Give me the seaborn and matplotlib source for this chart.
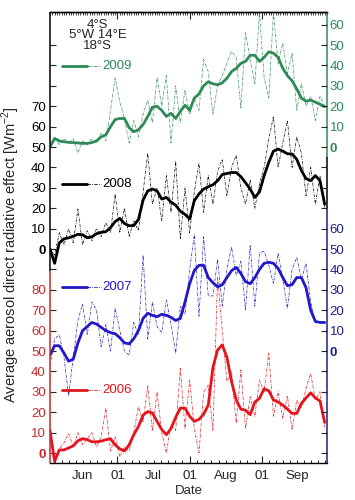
import numpy as np
import pandas as pd
import matplotlib
matplotlib.use('Agg')
import matplotlib.pyplot as plt
from matplotlib.ticker import FixedLocator, FixedFormatter, MultipleLocator, NullFormatter
import matplotlib.dates as mdates
import seaborn as sns

# every second day from 2 June, all years drawn on one calendar
dates = pd.date_range('2006-06-02', periods=60, freq='2D')

years = ['2006', '2007', '2008', '2009']

red_daily = [12, -5, 2, 5, 9.6, 3, 10, 4, 7, 10, 3, 8, 22, 1, 8, -2, 3, 1, 10, 22.7,
             15, 33, 11, 30, 10, 0, 14, 11, 41.5, 12, 35.8, 12, 0, 30, 33.3, 11, 86, 60, 35, 40,
             14.5, 40.7, 12, 27.6, 18, 35.8, 30, 49, 18, 30, 17, 28, 11.3, 26, 22, 31.7, 39, 26, 30, 12]
red_smooth = [11, -4, 1.5, 1.5, 2.5, 3.5, 6, 7, 6.6, 5.5, 5.5, 5.8, 6.5, 7, 4, 2, 1, 4, 9, 13,
              18.6, 20.3, 19.6, 15.5, 11.5, 9, 12, 17.5, 22, 22, 18, 15.5, 16.5, 19, 23.5, 42, 50.5, 53, 47, 35,
              26, 21.5, 21, 18.8, 25, 26.8, 31.5, 30.5, 26, 25, 23.5, 21.5, 19.4, 19.4, 24.3, 27, 29.5, 27, 25.5, 15]

blue_daily = [-7, 6, 8, -3, -22, -3, 15, 23, 8, 24, 20, 2, 13, 0, 21, 10, 0, -2, 14, 8,
              47, 6, 24, 12, 9, 25, 13, -1, 22, 18, 40, 57, 17, 56, 27, 27, 45, 22, 40, 51,
              37, 44, 20, 52, 22, 48, 49, 42, 33, 48, 35, 21, 40, 46, 35, 43, 24, 14, 14, 14]
blue_smooth = [-2, 2.6, 2.6, -1, -5, -4, 4, 10, 12, 14, 13.2, 11.6, 10, 9, 8.5, 6.5, 4, 3.5, 6, 10,
               16, 18.5, 17.5, 16.8, 18, 17.5, 16.5, 15, 16, 24, 33, 39.5, 42, 42, 36, 33.5, 31.5, 32.5, 36, 39.4,
               41, 38, 34, 33, 36, 40, 43, 43.5, 43, 40.5, 36, 32, 32.5, 36, 36, 31, 20, 14.5, 14, 14]

black_daily = [0, -3, 8, 2, 10, 3, 19.6, 2, 9, 4, 10, 6, 13, 8, 27, 8, 20, 6, 14, 9,
               28, 47, 22, 30, 14, 36, 18, 43, 5, 30, 8, 28, 42, 18, 36, 22, 38, 44, 26, 40,
               46, 30, 22, 34, 20, 32, 40, 54, 65, 40, 52, 63, 40, 55, 47, 26, 40, 22, 36, 20]
black_smooth = [0, -7, 3, 5, 5.5, 6.3, 7.2, 7, 5.5, 6, 7.5, 8.2, 8.5, 10.5, 13.5, 15, 12.5, 11.4, 11.5, 14.5,
                24, 28.5, 29.4, 28.5, 24.5, 25.3, 23, 21.5, 18.5, 17, 14.7, 23.7, 27, 29.4, 30.5, 31.5, 33.5, 36.5, 37, 37.5,
                37.5, 35.5, 32.5, 29.4, 25.3, 28, 36, 42.5, 48, 49, 48, 46.7, 46.6, 44, 38.5, 34.5, 33.5, 36, 33.5, 22]

green_daily = [0, 5, 1, 4, 2, 4, -3, 3, 1, 4, 2, 7, 3, 18, 34, 22, 14, 2, 13, 5,
               16, 23, 12, 34, 20, 35, 2, 30, 12, 28, 16, 24, 18, 43, 37, 16, 30, 35, 41, 47,
               44, 19, 56, 43, 31, 66, 34, 24, 66, 41, 51, 36, 46, 18, 31, 20, 25, 13, 25, 20]
green_smooth = [0, 4.2, 3, 2.6, 2.3, 2.2, 2, 1.8, 1.8, 2.2, 3, 5, 6, 10, 13.5, 14, 14, 9.5, 7.5, 8.5,
                11, 15, 19.5, 20, 18, 15, 16.5, 14, 17.5, 20.5, 18, 24, 26, 30, 32, 31, 30.5, 31.5, 33.7, 37,
                38.6, 41, 42, 45, 45, 42, 44, 46.7, 46, 44, 38.6, 35, 32.5, 28.5, 24, 22.5, 23, 22, 21, 19.8]

month_labels = ['Jun', 'Jul', 'Aug', 'Sep']
first_label = '01'
red_ticklabels = ['0', '10', '20', '30', '40', '50', '60', '70', '80']
black_ticklabels = ['0', '10', '20', '30', '40', '50', '60', '70']
blue_ticklabels = ['0', '10', '20', '30', '40', '50', '60']
green_ticklabels = ['0', '10', '20', '30', '40', '50', '60']
site_text = '4°S\n5°W 14°E\n18°S'

# layout / style
offsets = [0, 50, 100, 150]
line_colors = ['#e3141c', '#2318c8', 'black', '#2e8b57']
label_colors = {'red': '#c42a2a', 'blue': '#1e1e8c', 'black': 'black', 'green': '#2e8b57'}
legend_y = [0.162, 0.390, 0.619, 0.880]
dashdot = (0, (4, 1.6, 1, 1.6))

sns.set_style('ticks')
plt.rcParams['font.family'] = ['Liberation Sans', 'DejaVu Sans']
plt.rcParams['mathtext.fontset'] = 'custom'
plt.rcParams['mathtext.rm'] = 'Liberation Sans'
plt.rcParams['font.size'] = 9

fig = plt.figure(figsize=(3.55, 5.0), dpi=100)
ax = fig.add_axes([0.1408, 0.074, 0.7803, 0.902])

daily_sets = [red_daily, blue_daily, black_daily, green_daily]
smooth_sets = [red_smooth, blue_smooth, black_smooth, green_smooth]
for year, daily, smooth, off, col, ly in zip(years, daily_sets, smooth_sets, offsets, line_colors, legend_y):
    sns.lineplot(x=dates, y=np.asarray(daily) + off, ax=ax, color=col, lw=0.5,
                 linestyle=dashdot, estimator=None)
    sns.lineplot(x=dates, y=np.asarray(smooth) + off, ax=ax, color=col, lw=2.0, estimator=None)
    # hand-made legend entry
    ax.plot([0.043, 0.134], [ly, ly], transform=ax.transAxes, color=col, lw=2.0)
    ax.plot([0.134, 0.185], [ly, ly], transform=ax.transAxes, color=col, lw=0.6, linestyle=dashdot)
    ax.text(0.19, ly, year, transform=ax.transAxes, color=col, va='center', ha='left', fontsize=9.5)

ax.text(0.173, 0.985, site_text, transform=ax.transAxes, ha='center', va='top',
        fontsize=9.5, linespacing=0.85)

x0 = pd.Timestamp('2006-06-02')
x1 = pd.Timestamp('2006-09-29')
ax.set_xlim(x0, x1)
ax.set_ylim(-4.9, 216.2)

# bottom axis: "01" on the first of each month, month names mid-month
month_starts = pd.to_datetime(['2006-06-01', '2006-07-01', '2006-08-01', '2006-09-01', '2006-10-01'])
ms = mdates.date2num(month_starts)
ax.xaxis.set_major_locator(FixedLocator(ms[1:4]))
ax.xaxis.set_major_formatter(FixedFormatter([first_label] * 3))
minor_pos, minor_lab = [], []
for i in range(4):
    step = (ms[i + 1] - ms[i]) / 10
    for k in range(1, 10):
        minor_pos.append(ms[i] + k * step)
        minor_lab.append(month_labels[i] if k == 5 else '')
ax.xaxis.set_minor_locator(FixedLocator(minor_pos))
ax.xaxis.set_minor_formatter(FixedFormatter(minor_lab))
ax.tick_params(axis='x', which='major', direction='in', length=5, width=0.8, pad=5, labelsize=9.5)
ax.tick_params(axis='x', which='minor', direction='in', length=2.5, width=0.7, pad=5, labelsize=9.5)

top = ax.secondary_xaxis('top')
top.xaxis.set_major_locator(FixedLocator(ms[1:4]))
top.xaxis.set_minor_locator(MultipleLocator(1))
top.xaxis.set_major_formatter(NullFormatter())
top.xaxis.set_minor_formatter(NullFormatter())
top.tick_params(which='major', direction='in', length=5, width=0.8)
top.tick_params(which='minor', direction='in', length=2.5, width=0.6)

# left axis: 2006 (red) below, 2008 (black) above
left_pos = list(range(0, 90, 10)) + [90] + [100 + 10 * i for i in range(8)] + [180, 190, 200]
left_lab = red_ticklabels + [''] + black_ticklabels + ['', '', '']
left_col = ['red'] * 9 + ['black'] * 12
ax.yaxis.set_major_locator(FixedLocator(left_pos))
ax.yaxis.set_major_formatter(FixedFormatter(left_lab))
ax.yaxis.set_minor_locator(FixedLocator([]))
ax.tick_params(axis='y', direction='in', length=4, width=0.8, pad=3, labelsize=9.5)
for t, c, lab in zip(ax.yaxis.get_major_ticks(len(left_pos)), left_col, left_lab):
    t.label1.set_color(label_colors[c])
    t.tick1line.set_color(label_colors[c])
    if lab == '0':
        t.label1.set_fontweight('bold')

# right axis: 2007 (blue) below, 2009 (green) above
axr = ax.twinx()
axr.set_ylim(ax.get_ylim())
right_pos = [0, 10, 20, 30, 40] + [50 + 10 * i for i in range(7)] + [120, 130, 140] + [150 + 10 * i for i in range(7)]
right_lab = [''] * 5 + blue_ticklabels + [''] * 3 + green_ticklabels
right_col = ['blue'] * 12 + ['black'] * 3 + ['green'] * 7
axr.yaxis.set_major_locator(FixedLocator(right_pos))
axr.yaxis.set_major_formatter(FixedFormatter(right_lab))
axr.tick_params(axis='y', direction='in', length=4, width=0.8, pad=2, labelsize=9.5)
for t, c, lab in zip(axr.yaxis.get_major_ticks(len(right_pos)), right_col, right_lab):
    t.label2.set_color(label_colors[c])
    t.tick2line.set_color(label_colors[c])
    if lab == '0':
        t.label2.set_fontweight('bold')

# coloured spine pieces
for sp in ['left', 'right']:
    ax.spines[sp].set_visible(False)
for sp in axr.spines.values():
    sp.set_visible(False)
ytr = ax.get_yaxis_transform()
for x, segs in [(0, [(-4.9, 89, 'red'), (89, 216.2, 'black')]),
                (1, [(-4.9, 120, 'blue'), (120, 145, 'black'), (145, 216.2, 'green')])]:
    for a, b, c in segs:
        ax.plot([x, x], [a, b], transform=ytr, color=label_colors[c], lw=1.1,
                clip_on=False, solid_capstyle='butt')
for sp in ['top', 'bottom']:
    ax.spines[sp].set_linewidth(1.0)
    ax.spines[sp].set_color('black')
top.spines['top'].set_linewidth(1.0)

ax.set_ylabel('Average aerosol direct radiative effect [Wm$^{-2}$]', fontsize=10.5)
ax.yaxis.set_label_coords(-0.1, 0.463)
ax.set_xlabel('Date', fontsize=9.5)
ax.xaxis.set_label_coords(0.5, -0.048)

fig.savefig('out.png', dpi=100)
